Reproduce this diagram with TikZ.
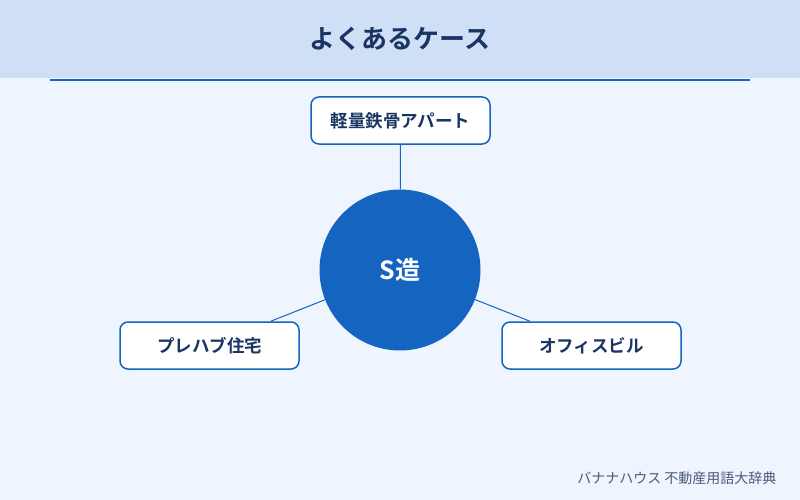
\documentclass[tikz,border=0pt]{standalone}
\usepackage{fontspec}
\setmainfont{Noto Sans CJK JP}[BoldFont={Noto Sans CJK JP Bold}]
\definecolor{bgc}{HTML}{EEF5FE}
\definecolor{headc}{HTML}{CFDFF5}
\definecolor{bluec}{HTML}{1565C0}
\definecolor{navyc}{HTML}{1A3563}
\definecolor{footc}{HTML}{4A5A78}
\begin{document}
\begin{tikzpicture}[x=1pt,y=-1pt,
  casebox/.style={draw=bluec,line width=1.5pt,fill=white,rounded corners=8pt,
    minimum width=179pt,minimum height=47pt,inner sep=0pt,
    font=\fontsize{17.5}{20}\selectfont\bfseries,text=navyc},
  hub/.style={circle,fill=bluec,minimum size=161pt,inner sep=0pt,
    font=\fontsize{25}{28}\selectfont\bfseries,text=white},
  link/.style={draw=bluec,line width=1pt}]
\useasboundingbox (0,0) rectangle (800,500);
\fill[bgc] (0,0) rectangle (800,500);
\fill[headc] (0,0) rectangle (800,78);
\draw[bluec,line width=2pt] (50,80) -- (750,80);
\node[font=\fontsize{26}{30}\selectfont\bfseries,text=navyc] (title) at (400,39) {よくあるケース};
\node[hub] (c) at (400,270) {S造};
\node[casebox] (t) at (400.5,120.5) {軽量鉄骨アパート};
\node[casebox] (l) at (209.5,345.5) {プレハブ住宅};
\node[casebox] (r) at (591.5,345.5) {オフィスビル};
\draw[link] (c) -- (t);
\draw[link] (c) -- (l);
\draw[link] (c) -- (r);
\node[anchor=east,font=\fontsize{14}{16}\selectfont,text=footc] (foot) at (780,478) {バナナハウス 不動産用語大辞典};
\end{tikzpicture}
\end{document}
